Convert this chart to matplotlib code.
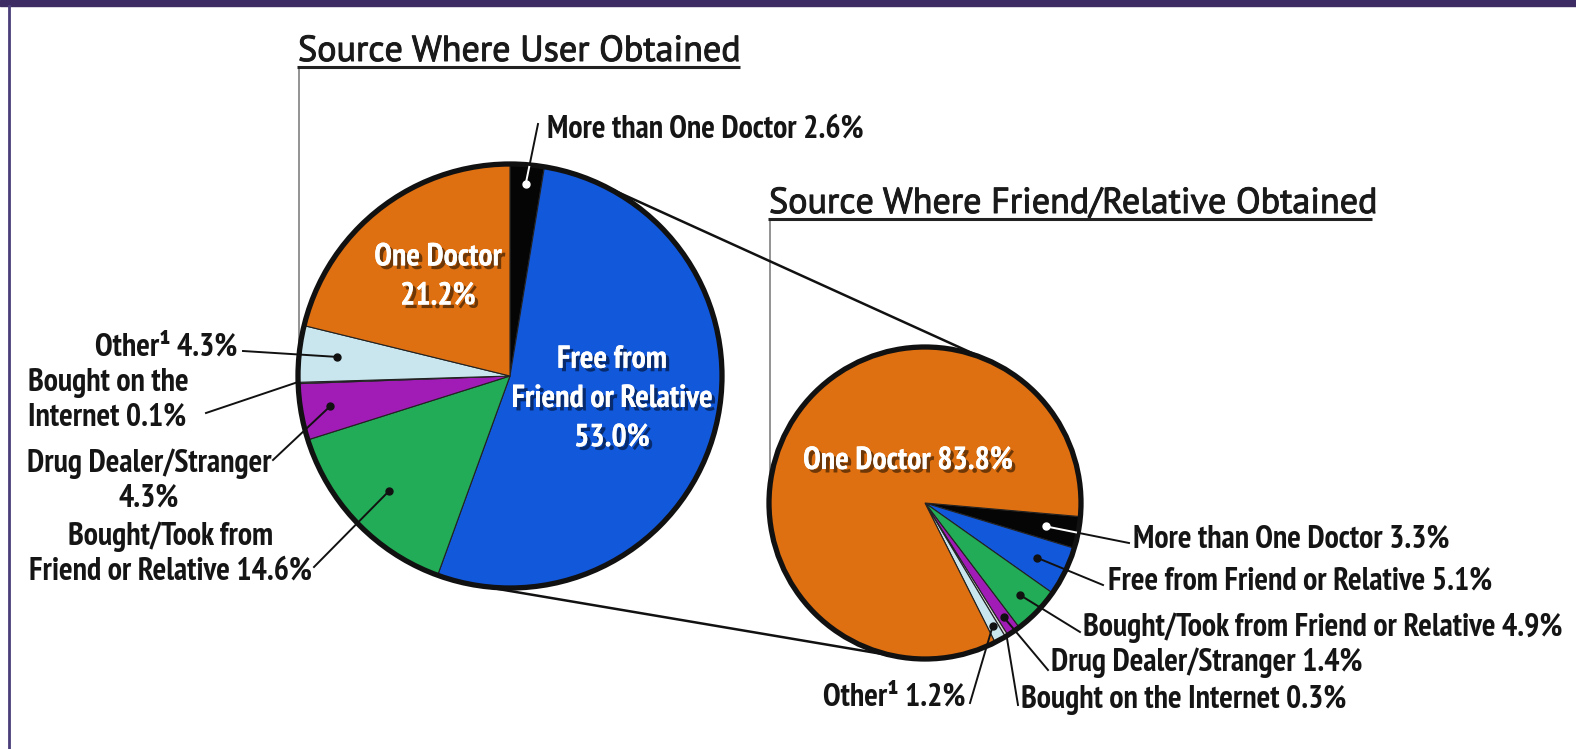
import numpy as np
import matplotlib
matplotlib.use("Agg")
import matplotlib.pyplot as plt
import matplotlib.patheffects as pe
from matplotlib.patches import Circle, Rectangle

W, H = 1576, 749

# data
user_labels = ["More than One Doctor", "Free from Friend or Relative", "Bought/Took from Friend or Relative",
               "Drug Dealer/Stranger", "Bought on the Internet", "Other", "One Doctor"]
user_values = [2.6, 53.0, 14.6, 4.3, 0.1, 4.3, 21.2]
friend_labels = ["More than One Doctor", "Free from Friend or Relative", "Bought/Took from Friend or Relative",
                 "Drug Dealer/Stranger", "Bought on the Internet", "Other", "One Doctor"]
friend_values = [3.3, 5.1, 4.9, 1.4, 0.3, 1.2, 83.8]
slice_colors = ["#050505", "#1158DB", "#22AC57", "#A11CB6", "#D8D8D8", "#C9E6EF", "#DE7011"]

LABEL_FONT = ["PT Sans Narrow", "Roboto Condensed", "DejaVu Sans"]
TITLE_FONT = ["PT Sans", "Open Sans", "DejaVu Sans"]
LSIZE = 23


def Y(y):
    return H - y


fig = plt.figure(figsize=(W / 100, H / 100), dpi=100)
ax = fig.add_axes([0, 0, 1, 1])

# frame
ax.add_patch(Rectangle((0, Y(6)), W, 6, color="#3C2C63", zorder=1))
ax.plot([9, 9], [0, Y(6)], color="#4A3D7A", lw=2, zorder=1)

# pies
c1, r1 = (510, 376), 212
c2, r2 = (925, 503), 156
for vals, c, r, start in [(user_values, c1, r1, 90), (friend_values, c2, r2, -5)]:
    ax.pie(vals, colors=slice_colors, startangle=start, counterclock=False,
           center=(c[0], Y(c[1])), radius=r, frame=True,
           wedgeprops=dict(edgecolor="#222222", linewidth=0.8))
    ax.add_patch(Circle((c[0], Y(c[1])), r, fill=False, ec="#111111", lw=3.8, zorder=5))

# tangent lines between the pies
dx, dy = c2[0] - c1[0], c2[1] - c1[1]
d = np.hypot(dx, dy)
base = np.arctan2(dy, dx)
off = np.arccos((r1 - r2) / d)
for a in (base - off, base + off):
    p1 = (c1[0] + r1 * np.cos(a), c1[1] + r1 * np.sin(a))
    p2 = (c2[0] + r2 * np.cos(a), c2[1] + r2 * np.sin(a))
    ax.plot([p1[0], p2[0]], [Y(p1[1]), Y(p2[1])], color="#111111", lw=1.8, zorder=4)

# titles with underline and grey guide line
titles = [("Source Where User Obtained", 298, 61, 740, 67, 345),
          ("Source Where Friend/Relative Obtained", 769, 213, 1372, 219, 485)]
title_fx = [pe.withStroke(linewidth=0.7, foreground="#1a1a1a")]
for txt, x0, base_y, x1, uy, gy in titles:
    ax.text(x0, Y(base_y), txt, fontsize=26, family=TITLE_FONT, color="#1a1a1a",
            ha="left", va="baseline", zorder=6, path_effects=title_fx)
    ax.plot([x0 - 1, x1], [Y(uy), Y(uy)], color="#222222", lw=2.2, zorder=6,
            solid_capstyle="butt")
    ax.plot([x0 + 1, x0 + 1], [Y(uy + 1), Y(gy)], color="#8a8a8a", lw=1.3, zorder=3)

shadow = [pe.withSimplePatchShadow(offset=(2.5, -2.5), shadow_rgbFace="black", alpha=0.5),
          pe.Normal()]


def inner(x, y, s):
    ax.text(x, Y(y), s, fontsize=LSIZE, family=LABEL_FONT, weight="bold", color="white",
            ha="center", va="center", linespacing=1.4, zorder=7, path_effects=shadow)


inner(438, 277, "One Doctor\n21.2%")
inner(612, 399, "Free from\nFriend or Relative\n53.0%")
inner(908, 461, "One Doctor 83.8%")


def slice_angle(vals, start, i):
    before = sum(vals[:i])
    return np.deg2rad(start - 3.6 * (before + vals[i] / 2))


def leader(c, r, vals, start, i, frac, end, dot=True):
    a = slice_angle(vals, start, i)
    px, py = c[0] + frac * r * np.cos(a), c[1] - frac * r * np.sin(a)
    ax.plot([px, end[0]], [Y(py), Y(end[1])], color="#111111", lw=1.4, zorder=8)
    col = "white" if i == 0 else "#111111"
    if i == 0:
        # white part inside the black slice
        t = np.linspace(0, 1, 200)
        xs, ys = px + t * (end[0] - px), py + t * (end[1] - py)
        inside = np.hypot(xs - c[0], ys - c[1]) < r - 2
        ax.plot(xs[inside], [Y(v) for v in ys[inside]], color="white", lw=1.4, zorder=8)
    if dot:
        ax.plot(px, Y(py), "o", color=col, ms=5, zorder=9)


def label(x, y, s, ha="left"):
    ax.text(x, Y(y), s, fontsize=LSIZE, family=LABEL_FONT, weight="bold", color="#151515",
            ha=ha, va="center", linespacing=1.2, zorder=8)


# left pie labels
label(547, 129, "More than One Doctor 2.6%")
leader(c1, r1, user_values, 90, 0, 0.91, (538, 124))
label(237, 348, "Other\u00b9 4.3%", ha="right")
leader(c1, r1, user_values, 90, 5, 0.82, (243, 351))
label(28, 400, "Bought on the\nInternet 0.1%")
leader(c1, r1, user_values, 90, 4, 1.0, (206, 413), dot=False)
label(149, 481, "Drug Dealer/Stranger\n4.3%", ha="center")
leader(c1, r1, user_values, 90, 3, 0.86, (273, 460))
label(171, 554, "Bought/Took from\nFriend or Relative 14.6%", ha="center")
leader(c1, r1, user_values, 90, 2, 0.79, (314, 567))

# right pie labels
label(1133, 540, "More than One Doctor 3.3%")
leader(c2, r2, friend_values, -5, 0, 0.79, (1129, 543))
label(1108, 581, "Free from Friend or Relative 5.1%")
leader(c2, r2, friend_values, -5, 1, 0.8, (1103, 585))
label(1083, 628, "Bought/Took from Friend or Relative 4.9%")
leader(c2, r2, friend_values, -5, 2, 0.85, (1080, 632))
label(1051, 663, "Drug Dealer/Stranger 1.4%")
leader(c2, r2, friend_values, -5, 3, 0.89, (1048, 670))
label(1021, 700, "Bought on the Internet 0.3%")
leader(c2, r2, friend_values, -5, 4, 1.0, (1018, 705), dot=False)
label(966, 697, "Other\u00b9 1.2%", ha="right")
leader(c2, r2, friend_values, -5, 5, 0.9, (970, 703))

ax.set_xlim(0, W)
ax.set_ylim(0, H)
ax.set_aspect("equal")
ax.axis("off")
fig.savefig("out.png", dpi=100, facecolor="white")
